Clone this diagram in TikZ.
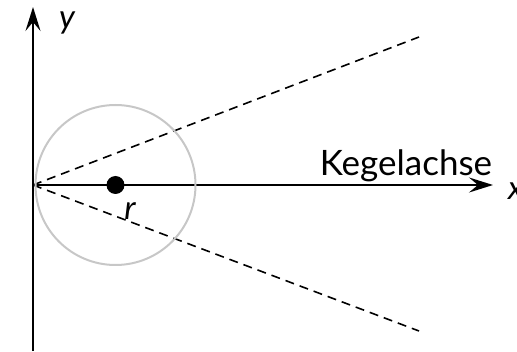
\documentclass[tikz,border=0pt]{standalone}
\usepackage{fontspec}
\setmainfont{Lato}
\usetikzlibrary{arrows.meta,positioning}

\tikzset{
  axis/.style={line width=2pt, -{Stealth[length=24pt,width=15pt,inset=9pt]}},
  conic/.style={line width=1.6pt, dash pattern=on 9pt off 6pt},
  circ/.style={line width=2pt, draw=black!22},
  lbl/.style={font=\fontsize{33}{36}\selectfont, inner sep=0pt}
}

\begin{document}
\begin{tikzpicture}[x=1pt, y=1pt]
  \useasboundingbox (0,0) rectangle (517,351);

  % axes
  \coordinate (O) at (33,166);
  \coordinate (ybot) at (33,0);
  \coordinate (ytop) at (33,344);
  \coordinate (xend) at (493,166);
  \draw[axis] (ybot) -- (ytop);
  \draw[axis] (O) -- (xend);
  \node[lbl] (ylab) at (67,328) {\itshape y};
  \node[lbl, anchor=west] (xlab) at (508,160) {\itshape x};
  \node[lbl, anchor=base, font=\fontsize{35}{38}\selectfont] (axlab) at (406,175) {Kegelachse};

  % cone lines
  \coordinate (up) at (419,314);
  \coordinate (lo) at (419,20);
  \draw[conic] (O) -- (up);
  \draw[conic] (O) -- (lo);

  % circle and centre
  \node[circ, circle, minimum size=160pt, inner sep=0pt] (kreis) at (115.5,166) {};
  \fill (kreis.center) circle (9);
  \node[lbl] (rlab) at (130,140) {\itshape r};
\end{tikzpicture}
\end{document}
